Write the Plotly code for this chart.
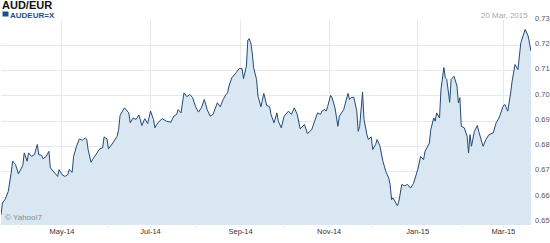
import pandas as pd
import plotly.graph_objects as go

title = "AUD/EUR"
series_name = "AUDEUR=X"
date_label = "20 Mar, 2015"
credit = "© Yahoo!7"
start_date = "2014-03-20"
end_date = "2015-03-20"

day_offsets = [0,1,3,5,7,8,10,12,15,16,18,19,21,23,25,26,28,29,31,33,34,37,39,40,42,44,46,47,49,50,
 52,54,56,58,59,60,62,63,66,68,70,71,73,74,77,80,81,82,85,88,89,91,93,95,97,99,101,103,105,106,
 108,111,114,117,119,121,122,124,126,128,130,132,134,136,138,140,142,144,146,148,149,151,153,155,156,157,159,162,164,166,
 167,169,170,171,172,173,174,176,177,179,180,181,183,185,186,188,190,191,193,195,198,200,202,204,206,209,211,214,216,218,
 220,221,223,224,225,227,228,230,232,233,236,239,240,241,243,245,246,247,249,250,252,253,255,256,258,259,261,262,263,265,
 267,268,269,270,272,273,274,276,278,280,282,284,287,289,291,292,295,296,298,299,300,302,303,305,306,307,309,310,312,314,
 315,316,317,319,321,322,323,324,326,328,329,331,332,334,336,339,341,343,346,347,349,351,352,354,356,358,360,361,363,364,365]

rates = [0.653,0.6577,0.6593,0.6623,0.6696,0.6742,0.6729,0.6692,0.6725,0.6775,0.6742,0.6775,0.6761,0.6768,0.6808,0.6768,0.6765,0.6752,0.676,0.6781,
 0.6716,0.6698,0.6682,0.6709,0.6689,0.6682,0.6689,0.6709,0.6698,0.6761,0.6801,0.683,0.6825,0.6834,0.683,0.6788,0.6738,0.6748,0.6775,0.6791,
 0.6795,0.6838,0.683,0.6791,0.6814,0.6841,0.6867,0.6923,0.6953,0.6933,0.6894,0.6913,0.6907,0.6925,0.6883,0.691,0.6891,0.694,0.6907,0.6874,
 0.6894,0.691,0.69,0.6896,0.692,0.6927,0.6946,0.6933,0.7012,0.6997,0.7006,0.6993,0.6957,0.6936,0.6953,0.6986,0.6946,0.692,0.6927,0.6962,
 0.6973,0.6957,0.6986,0.7006,0.7012,0.7039,0.7072,0.7092,0.7108,0.7108,0.7068,0.7118,0.7221,0.7226,0.721,0.7171,0.7111,0.7065,0.6999,0.6957,
 0.6986,0.701,0.6962,0.6957,0.6925,0.6894,0.6933,0.69,0.6874,0.692,0.694,0.6927,0.6953,0.6927,0.687,0.6887,0.6851,0.6867,0.69,0.6933,
 0.6927,0.694,0.6946,0.694,0.6959,0.7002,0.6993,0.6953,0.688,0.692,0.6946,0.701,0.6986,0.6993,0.6995,0.694,0.686,0.688,0.7015,0.6907,
 0.6847,0.6828,0.6838,0.6788,0.6808,0.6828,0.6801,0.6768,0.6742,0.6702,0.6676,0.6649,0.659,0.6597,0.6577,0.6566,0.6583,0.665,0.6645,0.665,
 0.6636,0.6653,0.6709,0.6761,0.6748,0.6781,0.6814,0.6867,0.6913,0.69,0.6933,0.6913,0.7026,0.7112,0.7072,0.7065,0.6975,0.7065,0.7078,0.7039,
 0.6973,0.6993,0.688,0.6874,0.6841,0.6775,0.6847,0.6801,0.686,0.6883,0.686,0.6814,0.6801,0.6828,0.6847,0.6854,0.6894,0.6913,0.6962,0.6966,
 0.694,0.7012,0.7058,0.7124,0.7104,0.721,0.7243,0.7263,0.7237,0.7205,0.7177]

y_ticks = [0.65, 0.66, 0.67, 0.68, 0.69, 0.70, 0.71, 0.72, 0.73]
y_range = [0.649, 0.73]

dates = pd.to_datetime(start_date) + pd.to_timedelta(day_offsets, unit="D")

LINE = "#23497a"
FILL = "#d8e7f2"
GRID = "#e5e9ec"
BLUE = "#1f4f8e"
FONT = "Liberation Sans, Arial, sans-serif"

fig = go.Figure()
fig.add_trace(go.Scatter(
    x=dates, y=rates, mode="lines",
    line=dict(color=LINE, width=1),
    fill="tozeroy", fillcolor=FILL,
    hoverinfo="skip", showlegend=False,
))

fig.update_layout(
    width=550, height=243,
    margin=dict(l=1, r=19, t=20, b=18),
    paper_bgcolor="white", plot_bgcolor="white",
    font=dict(family=FONT, size=8, color="#444"),
    xaxis=dict(
        range=[start_date, end_date],
        tick0="2014-05-01", dtick="M2", tickformat="%b-%y",
        showgrid=True, gridcolor=GRID, gridwidth=1,
        ticks="outside", ticklen=2, tickcolor=GRID,
        tickfont=dict(size=7.5, color="#333"),
        ticklabelstandoff=-3,
        showline=False, zeroline=False,
        minor=dict(dtick="M1", tick0="2014-04-01", ticks="outside", ticklen=2,
                   tickcolor=GRID, showgrid=False),
    ),
    yaxis=dict(
        side="right", range=y_range,
        tickvals=y_ticks, ticktext=[f"{v:.2f}" for v in y_ticks],
        showgrid=True, gridcolor=GRID, gridwidth=1,
        tickfont=dict(size=7.5, color="#555"),
        ticks="", ticklabelstandoff=3, ticklabelshift=-2,
        showline=False, zeroline=False,
    ),
    annotations=[
        dict(text=f"<b>{title}</b>", xref="paper", yref="paper", x=0, y=1,
             xshift=-1, yshift=23, xanchor="left", yanchor="top",
             showarrow=False, font=dict(size=11, color="#111")),
        dict(text=f"<b>{series_name}</b>", xref="paper", yref="paper", x=0, y=1,
             xshift=7, yshift=11, xanchor="left", yanchor="top",
             showarrow=False, font=dict(size=8, color=BLUE)),
        dict(text=date_label, xref="paper", yref="paper", x=1, y=1,
             xshift=-1, yshift=11, xanchor="right", yanchor="top",
             showarrow=False, font=dict(size=8, color="#aaaaaa")),
        dict(text=credit, xref="paper", yref="paper", x=0, y=0,
             xshift=2, yshift=1, xanchor="left", yanchor="bottom",
             showarrow=False, font=dict(size=8, color="#8a8a8a")),
    ],
    shapes=[
        dict(type="rect", xref="paper", yref="paper",
             x0=1.5 / 530, x1=7.5 / 530, y0=1 + 3.5 / 205, y1=1 + 8.5 / 205,
             fillcolor=BLUE, line=dict(width=0)),
    ],
)

fig.write_html("out.html")
